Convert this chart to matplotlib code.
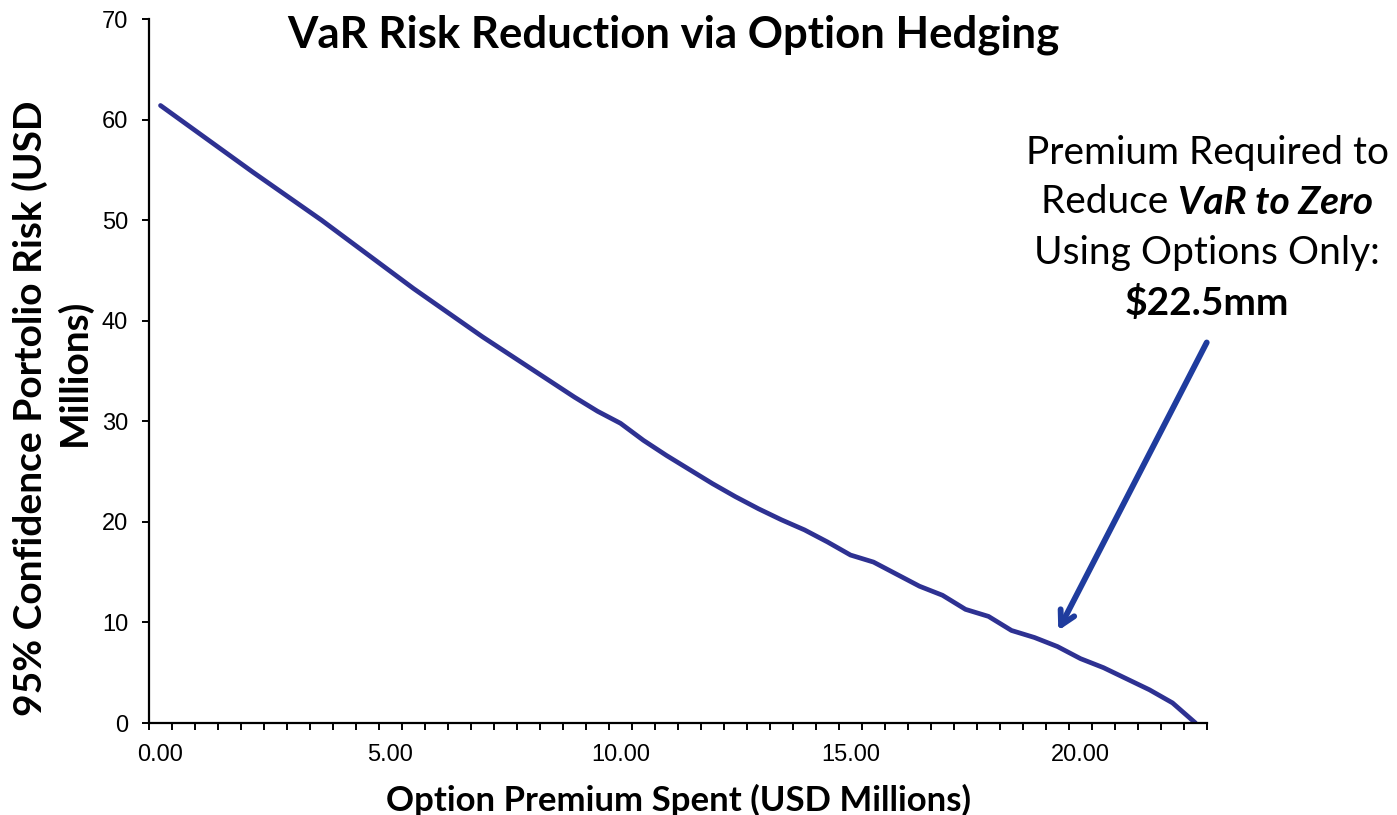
import matplotlib.pyplot as plt
import numpy as np

# option premium spent (USD mm), category steps of 0.5
premium = [0.0, 0.5, 1.0, 1.5, 2.0, 2.5, 3.0, 3.5, 4.0, 4.5,
           5.0, 5.5, 6.0, 6.5, 7.0, 7.5, 8.0, 8.5, 9.0, 9.5,
           10.0, 10.5, 11.0, 11.5, 12.0, 12.5, 13.0, 13.5, 14.0, 14.5,
           15.0, 15.5, 16.0, 16.5, 17.0, 17.5, 18.0, 18.5, 19.0, 19.5,
           20.0, 20.5, 21.0, 21.5, 22.0, 22.5]
# 95% VaR (USD mm)
var95 = [61.4, 59.75, 58.1, 56.45, 54.8, 53.2, 51.6, 50.0, 48.3, 46.6,
         44.9, 43.2, 41.6, 40.0, 38.4, 36.9, 35.4, 33.9, 32.4, 31.0,
         29.8, 28.1, 26.6, 25.2, 23.8, 22.5, 21.3, 20.2, 19.2, 18.0,
         16.7, 16.0, 14.8, 13.6, 12.7, 11.3, 10.6, 9.2, 8.5, 7.6,
         6.4, 5.5, 4.4, 3.3, 2.0, 0.0]
xlabels = [0, 5, 10, 15, 20]

W, H = 1397, 815
fig = plt.figure(figsize=(W / 100, H / 100), dpi=100)
ax = fig.add_axes([149 / W, 1 - 723 / H, (1207 - 149) / W, (723 - 19) / H])

ax.plot(premium, var95, color='#2E3192', lw=3.4, solid_capstyle='round')

ax.set_xlim(-0.25, 22.75)
ax.set_ylim(0, 70)
ax.set_yticks(range(0, 71, 10))
ax.set_xticks(xlabels)
ax.set_xticklabels(['%.2f' % v for v in xlabels])
ax.set_xticks(np.arange(-0.25, 22.8, 0.5), minor=True)

for s in ['top', 'right']:
    ax.spines[s].set_visible(False)
for s in ['left', 'bottom']:
    ax.spines[s].set_linewidth(1.6)

ax.tick_params(axis='x', which='major', length=0, pad=15, labelsize=17)
ax.tick_params(axis='x', which='minor', length=5, width=1.4, direction='out')
ax.tick_params(axis='y', length=5, width=1.4, pad=10, labelsize=17)
for lb in ax.get_xticklabels() + ax.get_yticklabels():
    lb.set_family('Liberation Sans')

fig.text(673 / W, 1 - 35 / H, 'VaR Risk Reduction via Option Hedging',
         family='Lato', weight='bold', fontsize=31.5, ha='center', va='center')
fig.text(678 / W, 1 - 800 / H, 'Option Premium Spent (USD Millions)',
         family='Lato', weight='bold', fontsize=25, ha='center', va='center')
fig.text(30 / W, 1 - 408 / H, '95% Confidence Portolio Risk (USD',
         family='Lato', weight='bold', fontsize=28, ha='center', va='center',
         rotation=90)
fig.text(74 / W, 1 - 372 / H, 'Millions)',
         family='Lato', weight='bold', fontsize=28, ha='center', va='center',
         rotation=90)

# annotation block
cx = 1207 / W
fs = 28
fig.text(cx, 1 - 153 / H, 'Premium Required to', family='Lato', fontsize=fs,
         ha='center', va='center')
fig.text(cx, 1 - 253 / H, 'Using Options Only:', family='Lato', fontsize=fs,
         ha='center', va='center')
fig.text(cx, 1 - 303 / H, '$22.5mm', family='Lato', weight='bold', fontsize=fs,
         ha='center', va='center')

r = fig.canvas.get_renderer()
ta = fig.text(0, 1 - 202 / H, 'Reduce ', family='Lato', fontsize=fs,
              ha='left', va='center')
tb = fig.text(0, 1 - 202 / H, 'VaR to Zero', family='Lato', fontsize=fs,
              weight='bold', style='italic', ha='left', va='center')
wa = ta.get_window_extent(r).width / W
wb = tb.get_window_extent(r).width / W
x0 = cx - (wa + wb) / 2
ta.set_x(x0)
tb.set_x(x0 + wa)

ax.annotate('', xy=(1057 / W, 1 - 633 / H), xycoords='figure fraction',
            xytext=(1208 / W, 1 - 340 / H), textcoords='figure fraction',
            arrowprops=dict(arrowstyle='->,head_length=1.0,head_width=0.55',
                            color='#1F3C9E', lw=4.2))

fig.savefig('out.png', dpi=100)
